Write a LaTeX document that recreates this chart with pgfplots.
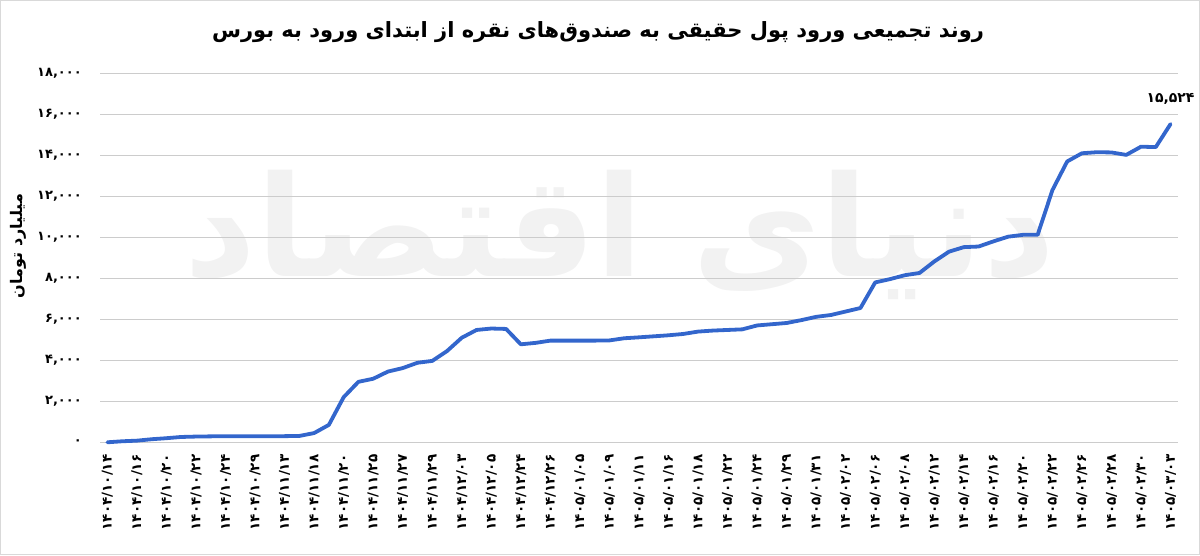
\documentclass[border=0pt]{standalone}
\usepackage{fontspec}
\usepackage{pgfplots}
\pgfplotsset{compat=1.18}
\TeXXeTstate=1
\newfontfamily\arabicfont[Script=Arabic]{DejaVu Sans}
\definecolor{lineblue}{HTML}{3366CC}
\definecolor{gridgray}{HTML}{CCCCCC}
\begin{document}
\begin{tikzpicture}[x=1pt,y=1pt]
\useasboundingbox (0,0) rectangle (1200,555);
\draw[gray!30, line width=1pt] (0.5,0.5) rectangle (1199.5,554.5);
\node[text=black!5, font=\arabicfont\bfseries\fontsize{140}{140}\selectfont] at (620,320) {\beginR دنیای اقتصاد\endR};
\begin{axis}[
  at={(100pt,112.7pt)}, anchor=south west,
  scale only axis, width=1078pt, height=369pt,
  xmin=-0.5, xmax=72.5, ymin=0, ymax=18000,
  scaled y ticks=false,
  axis line style={draw=none},
  major tick length=0pt,
  ymajorgrids, grid style={draw=gridgray, line width=1pt},
  xtick={0,2,...,72},
  xticklabels={۱۴۰۴/۱۰/۱۴, ۱۴۰۴/۱۰/۱۶, ۱۴۰۴/۱۰/۲۰, ۱۴۰۴/۱۰/۲۲, ۱۴۰۴/۱۰/۲۴, ۱۴۰۴/۱۰/۲۹, ۱۴۰۴/۱۱/۱۳, ۱۴۰۴/۱۱/۱۸, ۱۴۰۴/۱۱/۲۰, ۱۴۰۴/۱۱/۲۵, ۱۴۰۴/۱۱/۲۷, ۱۴۰۴/۱۱/۲۹, ۱۴۰۴/۱۲/۰۳, ۱۴۰۴/۱۲/۰۵, ۱۴۰۴/۱۲/۲۴, ۱۴۰۴/۱۲/۲۶, ۱۴۰۵/۰۱/۰۵, ۱۴۰۵/۰۱/۰۹, ۱۴۰۵/۰۱/۱۱, ۱۴۰۵/۰۱/۱۶, ۱۴۰۵/۰۱/۱۸, ۱۴۰۵/۰۱/۲۲, ۱۴۰۵/۰۱/۲۴, ۱۴۰۵/۰۱/۲۹, ۱۴۰۵/۰۱/۳۱, ۱۴۰۵/۰۲/۰۲, ۱۴۰۵/۰۲/۰۶, ۱۴۰۵/۰۲/۰۸, ۱۴۰۵/۰۲/۱۲, ۱۴۰۵/۰۲/۱۴, ۱۴۰۵/۰۲/۱۶, ۱۴۰۵/۰۲/۲۰, ۱۴۰۵/۰۲/۲۲, ۱۴۰۵/۰۲/۲۶, ۱۴۰۵/۰۲/۲۸, ۱۴۰۵/۰۲/۳۰, ۱۴۰۵/۰۳/۰۳},
  xticklabel style={rotate=90, anchor=east, inner sep=0pt, font=\arabicfont\bfseries\fontsize{13.5}{14}\selectfont},
  xticklabel shift=12pt,
  ytick={0,2000,...,18000},
  yticklabels={{۰},{۲,۰۰۰},{۴,۰۰۰},{۶,۰۰۰},{۸,۰۰۰},{۱۰,۰۰۰},{۱۲,۰۰۰},{۱۴,۰۰۰},{۱۶,۰۰۰},{۱۸,۰۰۰}},
  yticklabel style={anchor=east, inner sep=0pt, font=\arabicfont\bfseries\fontsize{13}{14}\selectfont},
  yticklabel shift=18pt,
  clip=false,
]
\addplot[lineblue, line width=3.8pt, line join=round, line cap=round] coordinates {
(0,0) (1,50) (2,80) (3,150) (4,200) (5,260) (6,280) (7,290) (8,295) (9,300)
(10,300) (11,300) (12,300) (13,310) (14,450) (15,850) (16,2200) (17,2950) (18,3100) (19,3450)
(20,3620) (21,3880) (22,3970) (23,4450) (24,5100) (25,5480) (26,5550) (27,5530) (28,4780) (29,4850)
(30,4960) (31,4960) (32,4960) (33,4960) (34,4970) (35,5075) (36,5120) (37,5170) (38,5220) (39,5285)
(40,5400) (41,5450) (42,5480) (43,5510) (44,5700) (45,5760) (46,5820) (47,5960) (48,6120) (49,6210)
(50,6380) (51,6550) (52,7800) (53,7960) (54,8150) (55,8260) (56,8820) (57,9300) (58,9520) (59,9550)
(60,9800) (61,10030) (62,10120) (63,10120) (64,12300) (65,13700) (66,14100) (67,14150) (68,14140) (69,14020)
(70,14420) (71,14400) (72,15524)
};
\node[anchor=south, inner sep=0pt, yshift=19pt, font=\arabicfont\bfseries\fontsize{14}{16}\selectfont] at (axis cs:72,15524) {۱۵,۵۲۴};
\end{axis}
\node[font=\arabicfont\bfseries\fontsize{21}{26}\selectfont] at (598,523) {\beginR روند تجمیعی ورود پول حقیقی به صندوق‌های نقره از ابتدای ورود به بورس\endR};
\node[rotate=90, font=\arabicfont\bfseries\fontsize{16}{20}\selectfont] at (18,309) {\beginR میلیارد تومان\endR};
\end{tikzpicture}
\end{document}
